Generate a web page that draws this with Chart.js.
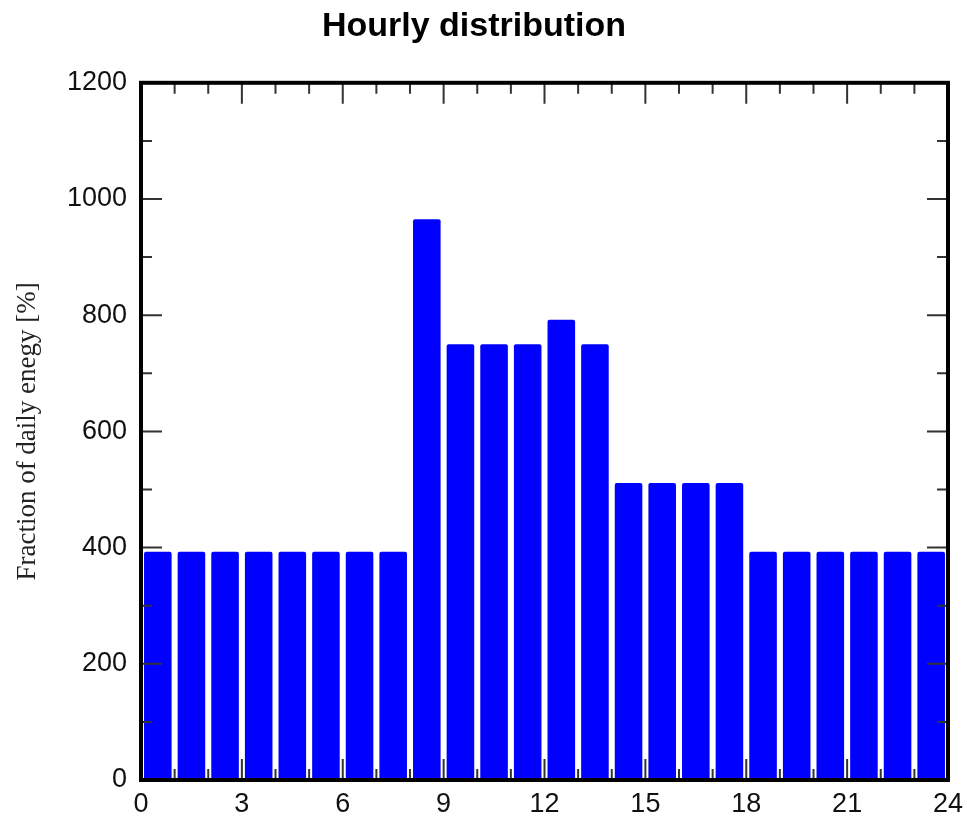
<!DOCTYPE html>
<html>
<head>
<meta charset="utf-8">
<script src="https://cdn.jsdelivr.net/npm/chart.js@4"></script>
<style>
  html, body { margin: 0; padding: 0; background: #fff; }
  #wrap { width: 967px; height: 821px; position: relative; }
</style>
</head>
<body>
<div id="wrap"><canvas id="myChart"></canvas></div>
<script>
const hours = [0, 1, 2, 3, 4, 5, 6, 7, 8, 9, 10, 11, 12, 13, 14, 15, 16, 17, 18, 19, 20, 21, 22, 23];
const energy = [393, 393, 393, 393, 393, 393, 393, 393, 965, 750, 750, 750, 792, 750, 511, 511, 511, 511, 393, 393, 393, 393, 393, 393];
const xTicks = [0, 3, 6, 9, 12, 15, 18, 21, 24];
const yTicks = [0, 200, 400, 600, 800, 1000, 1200];

// inward ticks + heavy frame, like the original plot
const framePlugin = {
  id: "frame",
  afterDatasetsDraw(chart) {
    const { ctx, chartArea: a, scales } = chart;
    const x = scales.x, y = scales.y;
    ctx.save();
    ctx.strokeStyle = "#333";
    ctx.lineWidth = 2;
    ctx.beginPath();
    for (let h = 0; h <= 24; h++) {
      const px = x.getPixelForValue(h);
      const len = h % 3 === 0 ? 21 : 11;
      ctx.moveTo(px, a.top); ctx.lineTo(px, a.top + len);
      ctx.moveTo(px, a.bottom); ctx.lineTo(px, a.bottom - len);
    }
    for (let v = 0; v <= 1200; v += 100) {
      const py = y.getPixelForValue(v);
      const len = v % 200 === 0 ? 21 : 11;
      ctx.moveTo(a.left, py); ctx.lineTo(a.left + len, py);
      ctx.moveTo(a.right, py); ctx.lineTo(a.right - len, py);
    }
    ctx.stroke();
    ctx.strokeStyle = "#000";
    ctx.lineWidth = 4;
    ctx.strokeRect(a.left, a.top, a.right - a.left, a.bottom - a.top);
    ctx.restore();
  },
};

const canvas = document.getElementById("myChart");
canvas.width = 967;
canvas.height = 821;

const chart = new Chart(canvas, {
  type: "bar",
  data: {
    datasets: [
      {
        data: hours.map((h, i) => ({ x: h + 0.5, y: energy[i] })),
        backgroundColor: "#0000ff",
        borderWidth: 0,
        borderRadius: 2,
        borderSkipped: false,
        barPercentage: 0.82,
        categoryPercentage: 1,
      },
    ],
  },
  options: {
    responsive: false,
    animation: false,
    layout: { padding: { left: 0, right: 19, top: 0, bottom: 0 } },
    plugins: {
      legend: { display: false },
      tooltip: { enabled: false },
      title: {
        display: true,
        text: "Hourly distribution",
        color: "#000",
        font: { family: "Liberation Sans, Arial, sans-serif", size: 34, weight: "bold" },
        padding: { top: 6, bottom: 36 },
      },
    },
    scales: {
      x: {
        type: "linear",
        min: 0,
        max: 24,
        offset: false,
        grid: { display: false, drawTicks: false },
        border: { display: false },
        afterBuildTicks(scale) {
          scale.ticks = xTicks.map((v) => ({ value: v }));
        },
        afterFit(scale) {
          scale.height = 41;
          scale.paddingRight = 0;
          scale.paddingLeft = 0;
        },
        ticks: {
          color: "#111",
          padding: 8,
          maxRotation: 0,
          font: { family: "Liberation Sans, Arial, sans-serif", size: 27 },
        },
      },
      y: {
        min: 0,
        max: 1200,
        grid: { display: false, drawTicks: false },
        border: { display: false },
        afterBuildTicks(scale) {
          scale.ticks = yTicks.map((v) => ({ value: v }));
        },
        afterFit(scale) {
          scale.width = 141;
        },
        ticks: {
          color: "#111",
          padding: 14,
          callback: (v) => String(v),
          font: { family: "Liberation Sans, Arial, sans-serif", size: 27 },
        },
        title: {
          display: true,
          text: "Fraction of daily enegy [%]",
          color: "#222",
          padding: { top: 12, bottom: 0 },
          font: { family: "Liberation Serif, Times New Roman, serif", size: 27 },
        },
      },
    },
  },
  plugins: [framePlugin],
});
</script>
</body>
</html>
